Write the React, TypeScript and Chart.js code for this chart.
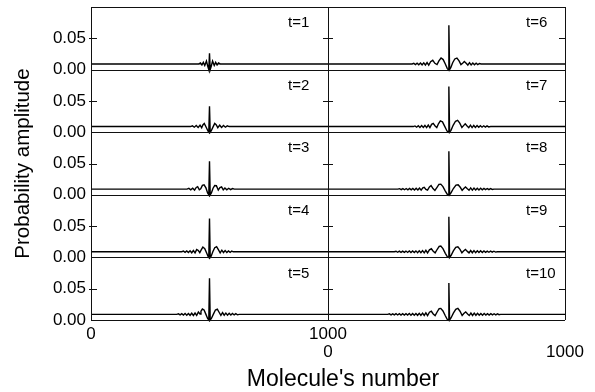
import { useEffect, useRef } from 'react';
import { Chart, registerables } from 'chart.js';

Chart.register(...registerables);

const FONT = "'Liberation Sans', Arial, Helvetica, sans-serif";
const PANEL_LABELS = ['t=1', 't=2', 't=3', 't=4', 't=5', 't=6', 't=7', 't=8', 't=9', 't=10'];
const X_TICKS = [0, 1000];
const Y_TICKS = [0, 0.05];
const Y_MAX = 0.1;
const X_TITLE = "Molecule's number";
const Y_TITLE = 'Probability amplitude';

const t1 = [[0,0.009],[455,0.009],[462,0.0105],[468,0.0075],[474,0.0115],[480,0.0065],[487,0.0135],[493,0.005],[497,0.0],[500,0.026],[503,0.0],[507,0.005],[513,0.0135],[520,0.0065],[526,0.0115],[532,0.0075],[538,0.0105],[545,0.009],[1000,0.009]];
const t2 = [[0,0.009],[420,0.009],[428,0.0102],[436,0.008],[444,0.0106],[452,0.0076],[460,0.0112],[467,0.0072],[472,0.0115],[478,0.014],[486,0.008],[494,0.0015],[497,0.0],[500,0.0415],[503,0.0],[507,0.002],[515,0.0085],[522,0.014],[528,0.012],[535,0.0072],[543,0.0112],[551,0.0076],[559,0.0106],[567,0.008],[575,0.0102],[583,0.009],[1000,0.009]];
const t3 = [[0,0.009],[405,0.009],[413,0.0102],[421,0.0079],[429,0.0106],[437,0.0076],[444,0.0118],[450,0.013],[457,0.008],[463,0.0095],[470,0.015],[477,0.0158],[485,0.011],[492,0.003],[497,0.0],[500,0.0537],[503,0.0],[508,0.003],[515,0.0105],[522,0.0148],[529,0.0145],[537,0.0075],[544,0.0115],[551,0.0125],[558,0.0078],[565,0.0108],[573,0.0079],[581,0.0104],[589,0.0082],[597,0.01],[605,0.009],[1000,0.009]];
const t4 = [[0,0.009],[383,0.009],[390,0.01],[397,0.008],[404,0.0103],[411,0.0077],[418,0.0106],[425,0.0074],[432,0.011],[439,0.0072],[446,0.0125],[453,0.011],[459,0.0075],[465,0.012],[472,0.0165],[480,0.014],[488,0.007],[494,0.0015],[497,0.0],[500,0.062],[503,0.0],[507,0.002],[514,0.009],[522,0.0155],[530,0.017],[538,0.012],[545,0.0072],[552,0.0115],[559,0.0078],[566,0.0108],[573,0.0078],[580,0.0104],[587,0.0082],[594,0.01],[600,0.009],[1000,0.009]];
const t5 = [[0,0.009],[362,0.009],[369,0.0099],[376,0.0081],[383,0.0101],[390,0.0079],[397,0.0103],[404,0.0077],[411,0.0105],[418,0.0075],[425,0.0108],[432,0.0073],[439,0.0112],[446,0.0075],[453,0.0128],[460,0.0095],[464,0.014],[470,0.0175],[477,0.016],[485,0.009],[492,0.0025],[497,0.0],[500,0.0668],[503,0.0],[508,0.0025],[516,0.009],[525,0.016],[533,0.0172],[541,0.012],[548,0.0075],[555,0.0118],[562,0.0076],[569,0.011],[576,0.0077],[583,0.0106],[590,0.0079],[597,0.0104],[604,0.0081],[611,0.0101],[618,0.0083],[625,0.009],[1000,0.009]];
const t6 = [[0,0.009],[355,0.009],[362,0.01],[369,0.008],[376,0.0102],[383,0.0078],[390,0.0105],[397,0.0076],[404,0.0108],[411,0.0074],[418,0.0112],[425,0.0072],[433,0.0125],[442,0.0148],[451,0.01],[460,0.008],[468,0.014],[477,0.0185],[486,0.016],[495,0.009],[503,0.002],[507,0.0],[510,0.071],[513,0.0],[518,0.003],[526,0.011],[535,0.017],[544,0.0185],[553,0.014],[561,0.008],[568,0.01],[575,0.013],[583,0.01],[590,0.0072],[597,0.011],[604,0.0075],[611,0.0106],[618,0.0078],[625,0.0102],[632,0.0081],[639,0.0098],[646,0.009],[1000,0.009]];
const t7 = [[0,0.009],[360,0.009],[367,0.01],[374,0.008],[381,0.0103],[388,0.0077],[395,0.0105],[402,0.0075],[409,0.0108],[416,0.0073],[423,0.0113],[430,0.0072],[437,0.0125],[444,0.014],[452,0.01],[459,0.0075],[466,0.0135],[474,0.018],[483,0.0165],[493,0.009],[502,0.002],[507,0.0],[510,0.073],[513,0.0],[519,0.003],[528,0.011],[538,0.0175],[547,0.019],[556,0.0145],[565,0.0075],[572,0.0105],[579,0.0135],[587,0.01],[594,0.0072],[601,0.0112],[608,0.0074],[615,0.0108],[622,0.0076],[629,0.0106],[636,0.0078],[643,0.0104],[650,0.008],[657,0.0102],[664,0.0082],[671,0.01],[678,0.0084],[686,0.009],[1000,0.009]];
const t8 = [[0,0.009],[295,0.009],[302,0.0098],[309,0.0082],[316,0.0099],[323,0.0081],[330,0.01],[337,0.008],[344,0.0101],[351,0.0079],[358,0.0102],[365,0.0078],[372,0.0104],[379,0.0077],[386,0.0106],[393,0.0075],[400,0.011],[406,0.012],[413,0.0085],[420,0.0075],[428,0.0125],[435,0.0148],[443,0.01],[451,0.007],[460,0.012],[468,0.0165],[476,0.017],[485,0.013],[495,0.006],[503,0.001],[507,0.0],[510,0.0695],[513,0.0],[519,0.003],[529,0.01],[540,0.0155],[549,0.016],[558,0.012],[566,0.0072],[573,0.01],[580,0.0125],[588,0.0095],[595,0.0072],[602,0.011],[609,0.0074],[616,0.0108],[623,0.0076],[630,0.0106],[637,0.0078],[644,0.0104],[651,0.008],[658,0.0102],[665,0.0082],[672,0.01],[679,0.0083],[686,0.0099],[693,0.0085],[700,0.009],[1000,0.009]];
const t9 = [[0,0.009],[280,0.009],[287,0.0098],[294,0.0082],[301,0.0099],[308,0.0081],[315,0.01],[322,0.008],[329,0.0101],[336,0.0079],[343,0.0102],[350,0.0078],[357,0.0103],[364,0.0077],[371,0.0104],[378,0.0076],[385,0.0106],[392,0.0075],[399,0.0109],[406,0.0073],[413,0.0113],[420,0.0072],[428,0.0122],[436,0.0138],[444,0.0098],[452,0.0072],[461,0.013],[469,0.0175],[476,0.018],[485,0.014],[495,0.0065],[503,0.0012],[507,0.0],[510,0.065],[513,0.0],[519,0.003],[529,0.0105],[539,0.016],[548,0.017],[557,0.0128],[565,0.0074],[572,0.0102],[580,0.0128],[588,0.0096],[595,0.0072],[602,0.011],[609,0.0074],[616,0.0108],[623,0.0076],[630,0.0106],[637,0.0077],[644,0.0105],[651,0.0078],[658,0.0103],[665,0.008],[672,0.0101],[679,0.0082],[686,0.01],[693,0.0083],[700,0.0099],[707,0.0085],[714,0.009],[1000,0.009]];
const t10 = [[0,0.009],[252,0.009],[259,0.0098],[266,0.0082],[273,0.0099],[280,0.0081],[287,0.01],[294,0.008],[301,0.01],[308,0.008],[315,0.0101],[322,0.0079],[329,0.0102],[336,0.0078],[343,0.0103],[350,0.0077],[357,0.0104],[364,0.0076],[371,0.0105],[378,0.0075],[385,0.0107],[392,0.0074],[399,0.011],[406,0.0072],[413,0.0114],[420,0.0071],[428,0.0124],[436,0.014],[444,0.0097],[452,0.007],[461,0.0132],[469,0.018],[476,0.0185],[485,0.0145],[495,0.0068],[503,0.0012],[507,0.0],[510,0.059],[513,0.0],[519,0.0032],[529,0.011],[539,0.017],[548,0.0185],[557,0.014],[566,0.0072],[573,0.0104],[581,0.013],[589,0.0095],[596,0.0071],[603,0.0111],[610,0.0073],[617,0.0109],[624,0.0075],[631,0.0107],[638,0.0076],[645,0.0105],[652,0.0077],[659,0.0104],[666,0.0079],[673,0.0102],[680,0.008],[687,0.0101],[694,0.0082],[701,0.01],[708,0.0083],[715,0.0099],[722,0.0085],[728,0.009],[1000,0.009]];

const LEFT_SERIES = [t1, t2, t3, t4, t5];
const RIGHT_SERIES = [t6, t7, t8, t9, t10];

export default function App() {
  const ref = useRef<HTMLCanvasElement>(null);

  useEffect(() => {
    if (!ref.current) return;
    const scales: any = {};
    const fixX = (h: number) => (s: any) => {
      s.height = h;
      s.paddingLeft = 0;
      s.paddingRight = 0;
    };
    const xCommon = (pad: number) => ({
      type: 'linear',
      position: 'bottom',
      stack: 'x',
      stackWeight: 1,
      min: 0,
      max: 1000,
      afterBuildTicks: (s: any) => {
        s.ticks = X_TICKS.map((v) => ({ value: v }));
      },
      grid: { display: false, drawTicks: false },
      border: { display: false },
      ticks: {
        autoSkip: false,
        maxRotation: 0,
        minRotation: 0,
        padding: pad,
        color: '#000',
        font: { family: FONT, size: 17 },
        callback: (v: any) => String(v),
      },
      afterFit: fixX(72),
    });
    scales.xL = { ...xCommon(4), weight: 1 };
    scales.xR = { ...xCommon(22), weight: 2 };

    for (let i = 0; i < 5; i++) {
      scales['yL' + i] = {
        type: 'linear',
        position: 'left',
        stack: 'yl',
        stackWeight: 1,
        weight: 10 - i,
        min: 0,
        max: Y_MAX,
        afterBuildTicks: (s: any) => {
          s.ticks = Y_TICKS.map((v) => ({ value: v }));
        },
        grid: { display: false, drawTicks: false },
        border: { display: false },
        ticks: {
          autoSkip: false,
          padding: 5,
          color: '#000',
          font: { family: FONT, size: 17 },
          callback: (v: any) => Number(v).toFixed(2),
        },
        title: {
          display: i === 2,
          text: Y_TITLE,
          color: '#000',
          font: { family: FONT, size: 20.5 },
          padding: { top: 11, bottom: 0 },
        },
        afterFit: (s: any) => {
          s.width = 91;
          s.paddingTop = 0;
          s.paddingBottom = 0;
        },
      };
      scales['yR' + i] = {
        type: 'linear',
        position: 'right',
        stack: 'yr',
        stackWeight: 1,
        weight: i + 1,
        min: 0,
        max: Y_MAX,
        grid: { display: false, drawTicks: false },
        border: { display: false },
        ticks: { display: false },
        afterFit: (s: any) => {
          s.width = 30;
          s.paddingTop = 0;
          s.paddingBottom = 0;
        },
      };
    }

    const datasets: any[] = [];
    LEFT_SERIES.forEach((ser, i) => {
      datasets.push({
        label: PANEL_LABELS[i],
        data: ser.map(([x, y]) => ({ x, y })),
        xAxisID: 'xL',
        yAxisID: 'yL' + i,
        borderColor: '#000',
        borderWidth: 1.4,
        pointRadius: 0,
        tension: 0,
        clip: false,
      });
    });
    RIGHT_SERIES.forEach((ser, i) => {
      datasets.push({
        label: PANEL_LABELS[i + 5],
        data: ser.map(([x, y]) => ({ x, y })),
        xAxisID: 'xR',
        yAxisID: 'yR' + i,
        borderColor: '#000',
        borderWidth: 1.4,
        pointRadius: 0,
        tension: 0,
        clip: false,
      });
    });

    const frames = {
      id: 'frames',
      afterDatasetsDraw(chart: any) {
        const { ctx, chartArea: ca } = chart;
        const px = (v: number) => Math.round(v) + 0.5;
        const xMid = chart.scales.xL.getPixelForValue(1000);
        ctx.save();
        ctx.strokeStyle = '#111';
        ctx.lineWidth = 1;
        ctx.beginPath();
        for (let i = 0; i < 5; i++) {
          const s = chart.scales['yL' + i];
          const top = s.getPixelForValue(Y_MAX);
          const bot = s.getPixelForValue(0);
          const mid = s.getPixelForValue(0.05);
          [top, bot].forEach((y) => {
            ctx.moveTo(ca.left, px(y));
            ctx.lineTo(ca.right, px(y));
          });
          ctx.moveTo(ca.left - 2, px(mid));
          ctx.lineTo(ca.left + 6, px(mid));
          ctx.moveTo(xMid - 5, px(mid));
          ctx.lineTo(xMid + 5, px(mid));
          ctx.moveTo(ca.right - 6, px(mid));
          ctx.lineTo(ca.right, px(mid));
        }
        [ca.left, xMid, ca.right].forEach((x) => {
          ctx.moveTo(px(x), ca.top);
          ctx.lineTo(px(x), ca.bottom);
        });
        ctx.stroke();

        ctx.fillStyle = '#000';
        ctx.font = `15px ${FONT}`;
        ctx.textAlign = 'left';
        ctx.textBaseline = 'middle';
        for (let i = 0; i < 5; i++) {
          const s = chart.scales['yL' + i];
          const top = s.getPixelForValue(Y_MAX);
          ctx.fillText(PANEL_LABELS[i], xMid - 40, top + 16);
          ctx.fillText(PANEL_LABELS[i + 5], ca.right - 39, top + 16);
        }
        ctx.font = `23px ${FONT}`;
        ctx.textAlign = 'center';
        ctx.fillText(X_TITLE, 343, 380);
        ctx.restore();
      },
    };

    const chart = new Chart(ref.current, {
      type: 'line',
      data: { datasets },
      options: {
        responsive: false,
        maintainAspectRatio: false,
        animation: false,
        devicePixelRatio: 1,
        layout: { padding: { top: 7, left: 0, right: 0, bottom: 0 } },
        plugins: { legend: { display: false }, tooltip: { enabled: false } },
        scales,
      } as any,
      plugins: [frames],
    });
    return () => chart.destroy();
  }, []);

  return (
    <div style={{ position: 'fixed', left: 0, top: 0, width: 595, height: 392, background: '#fff' }}>
      <canvas ref={ref} width={595} height={392} style={{ display: 'block', width: 595, height: 392 }} />
    </div>
  );
}
